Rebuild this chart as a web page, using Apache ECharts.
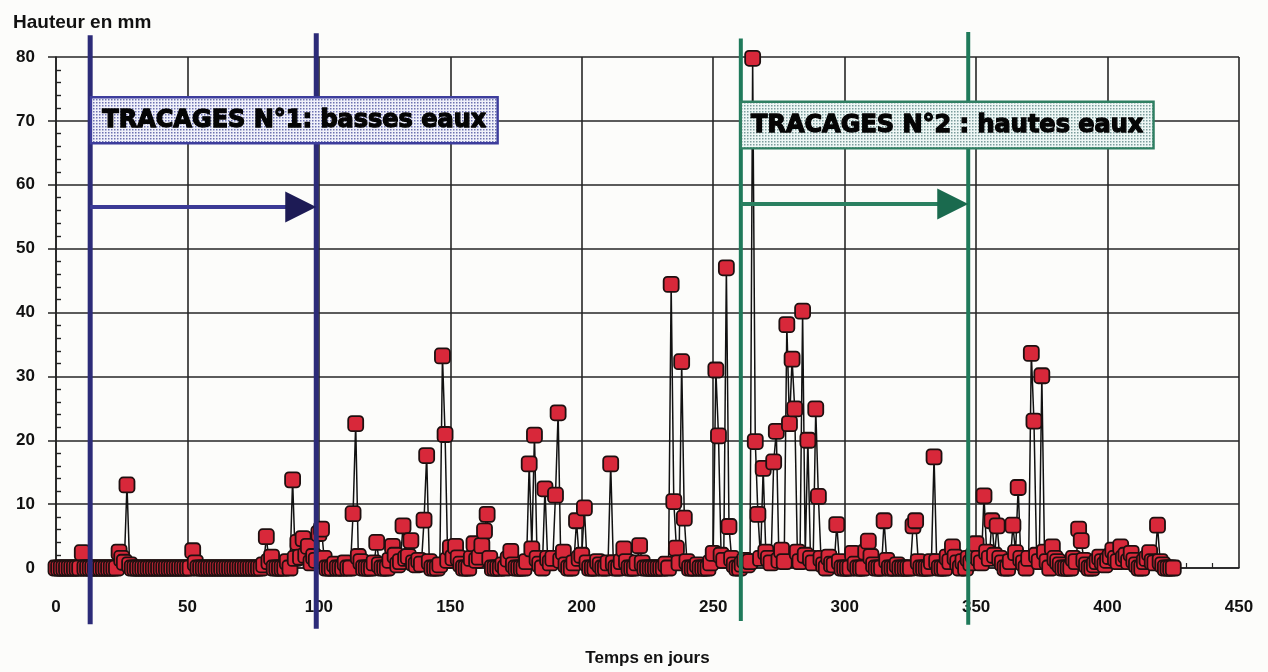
<!DOCTYPE html>
<html>
<head>
<meta charset="utf-8">
<script src="https://cdn.jsdelivr.net/npm/echarts@6/dist/echarts.min.js"></script>
<style>
  html, body { margin: 0; padding: 0; background: #fcfcfa; }
  #chart { width: 1268px; height: 672px; }
</style>
</head>
<body>
<div id="chart"></div>
<script>
// Daily rainfall (mm), day 0 to day 425
const rainfall = [
  0, 0, 0, 0, 0, 0, 0, 0, 0, 0,            2.4, 0, 0, 0, 0, 0, 0, 0, 0, 0,
  0, 0, 0, 0, 2.5, 1.5, 0.9, 13, 0.5, 0,   0, 0, 0, 0, 0, 0, 0, 0, 0, 0,
  0, 0, 0, 0, 0, 0, 0, 0, 0, 0,            0, 0, 2.7, 0.8, 0, 0, 0, 0, 0, 0,
  0, 0, 0, 0, 0, 0, 0, 0, 0, 0,            0, 0, 0, 0, 0, 0, 0, 0, 0, 0.5,
  4.9, 1, 1.7, 0, 0, 0, 0, 0, 1, 0,        13.8, 1.5, 4, 1.7, 4.6, 2, 3.4, 0.8, 1.8, 1.2,
  5.4, 6.1, 1.5, 0, 0, 0, 0.6, 0, 0, 0,    0.8, 0, 0, 8.5, 22.6, 1.8, 1, 0, 0, 0,
  0, 0.8, 4, 0.5, 0, 0, 0, 1.2, 3.4, 2,    0.5, 1, 6.6, 1.5, 1.8, 4.3, 0.8, 0.5, 1.2, 0.6,
  7.5, 17.6, 1, 0, 0, 0, 0.5, 33.2, 20.9, 1.2,  3.2, 1.6, 3.4, 1.6, 0.6, 0, 0, 0, 1.5, 3.8,
  1.2, 1.7, 3.5, 5.8, 8.4, 1.5, 0, 0, 0, 0,     0.5, 0, 1.4, 2.6, 0.5, 0, 0, 0, 0, 1,
  16.3, 3, 20.8, 1.5, 0.6, 0, 12.4, 1.5, 0.8, 1.5,  11.4, 24.3, 1.2, 2.5, 0.5, 0, 0, 0.8, 7.4, 1.5,
  2, 9.4, 0.8, 0, 0, 0, 1, 0.5, 0, 0,      0.8, 16.3, 0.8, 0, 0, 1, 3, 1, 0, 0,
  0, 0.8, 3.5, 0.8, 0, 0, 0, 0, 0, 0,      0, 0, 0.6, 0, 44.4, 10.4, 3.1, 0.8, 32.3, 7.8,
  1, 0, 0, 0, 0.5, 0, 0, 0, 0, 0.8,        2.3, 31, 20.7, 2, 1.2, 47, 6.5, 1.5, 0.5, 0,
  0, 0.6, 1.2, 0.5, 1, 79.8, 19.8, 8.4, 1.5, 15.6,  2.5, 1.5, 0.8, 16.6, 21.4, 1.2, 2.8, 1, 38.1, 22.6,
  32.7, 24.9, 2.5, 1, 40.2, 2, 20, 1.5, 0.8, 24.9,  11.2, 1.5, 0.5, 0, 1.7, 0.6, 0.5, 6.8, 1, 0,
  0, 0, 0, 2.3, 0.6, 0, 0, 0, 2.5, 4.2,    1.8, 0.5, 0, 0, 0, 7.4, 1.2, 0, 0, 0,
  0.5, 0, 0, 0, 0, 0, 6.6, 7.4, 1, 0,      0, 0, 0, 1, 17.4, 1, 0, 0, 0, 1.7,
  1, 3.3, 1.7, 0.8, 0, 1, 0, 1.5, 0.8, 2,  3.8, 1.5, 0.8, 11.3, 2.5, 1.5, 7.4, 2, 6.6, 1.5,
  0.8, 0, 0, 1, 6.7, 2.4, 12.6, 1.5, 0.8, 0,    1.5, 33.6, 23, 2, 1, 30.1, 2.5, 1, 0, 3.3,
  1.5, 1, 0.5, 0, 0, 0, 0, 1.5, 1, 6.1,    4.3, 1.2, 0.5, 0, 0, 0.5, 1, 1.7, 1, 0.5,
  1.2, 1.8, 2.8, 1.5, 1, 3.3, 1.5, 2, 1, 2.3,   1.2, 0.5, 0, 0, 1, 1.5, 2.4, 1, 0.8, 6.7,
  1, 0.5, 0, 0, 0, 0
];

// Tracer test campaigns: label, first day, last day
const campaignLabels = ['TRACAGES N°1: basses eaux', 'TRACAGES N°2 : hautes eaux'];
const campaignStart = [13, 260.5];
const campaignEnd = [99, 347];

// Axis settings
const xMax = 450, xStep = 50;
const yMax = 80, yStep = 10;

// Drawing layout for each campaign, in axis units
const campaignLayout = [
  { color: '#2c2b78', arrow: '#3b3a95', head: '#1d1b55', border: '#3d3d9c',
    dotBg: '#f0f1fa', dot: '#6d72b0', lineW: 5,
    top: [83.4, 83.7], bottom: [-8.8, -9.5], arrowY: 56.5,
    box: [13.3, 168, 66.5, 73.7] },
  { color: '#1f7a5a', arrow: '#2a8060', head: '#1a6a4e', border: '#2f7f62',
    dotBg: '#eef7f5', dot: '#7b9c9c', lineW: 4,
    top: [82.9, 83.9], bottom: [-8.3, -8.9], arrowY: 57,
    box: [260.5, 417.5, 65.7, 73.0] }
];

function halftone(bg, dot) {
  const c = document.createElement('canvas');
  c.width = 3; c.height = 3;
  const g = c.getContext('2d');
  g.fillStyle = bg; g.fillRect(0, 0, 3, 3);
  g.fillStyle = dot; g.fillRect(0, 0, 1.5, 1.5);
  return c;
}
const patterns = campaignLayout.map(l => halftone(l.dotBg, l.dot));

function renderCampaign(params, api) {
  const i = params.dataIndex;
  const L = campaignLayout[i];
  const s = api.value(0), e = api.value(1);
  const pS0 = api.coord([s, L.top[0]]), pS1 = api.coord([s, L.bottom[0]]);
  const pE0 = api.coord([e, L.top[1]]), pE1 = api.coord([e, L.bottom[1]]);
  const ay = api.coord([s, L.arrowY])[1];
  const b0 = api.coord([L.box[0], L.box[3]]);
  const b1 = api.coord([L.box[1], L.box[2]]);
  const tip = pE0[0];
  const headLen = 31, headHalf = 15.5;
  return {
    type: 'group',
    children: [
      { type: 'line', shape: { x1: pS0[0], y1: pS0[1], x2: pS1[0], y2: pS1[1] },
        style: { stroke: L.color, lineWidth: L.lineW } },
      { type: 'line', shape: { x1: pE0[0], y1: pE0[1], x2: pE1[0], y2: pE1[1] },
        style: { stroke: L.color, lineWidth: L.lineW } },
      { type: 'line', shape: { x1: pS0[0], y1: ay, x2: tip - headLen + 2, y2: ay },
        style: { stroke: L.arrow, lineWidth: 4 } },
      { type: 'polygon',
        shape: { points: [[tip - headLen, ay - headHalf], [tip, ay], [tip - headLen, ay + headHalf]] },
        style: { fill: L.head } },
      { type: 'rect',
        shape: { x: b0[0], y: b0[1], width: b1[0] - b0[0], height: b1[1] - b0[1] },
        style: { fill: { image: patterns[i], repeat: 'repeat' }, stroke: L.border, lineWidth: 2.4 } },
      { type: 'text',
        style: { text: campaignLabels[i], x: (b0[0] + b1[0]) / 2, y: (b0[1] + b1[1]) / 2 + 1,
                 align: 'center', verticalAlign: 'middle',
                 font: 'bold 24px "DejaVu Sans"', fill: '#050505',
                 stroke: '#050505', lineWidth: 1.3 } }
    ]
  };
}

const chart = echarts.init(document.getElementById('chart'), null, { renderer: 'canvas' });
const axisFont = { fontFamily: 'Liberation Sans', fontWeight: 'bold', fontSize: 17, color: '#111' };

chart.setOption({
  animation: false,
  backgroundColor: '#fcfcfa',
  title: {
    text: 'Hauteur en mm', left: 8, top: 8,
    textStyle: { fontFamily: 'Liberation Sans', fontWeight: 'bold', fontSize: 19, color: '#111' }
  },
  grid: { left: 56, right: 29, top: 57, bottom: 94, containLabel: false },
  xAxis: {
    type: 'value', min: 0, max: xMax, interval: xStep,
    name: 'Temps en jours', nameLocation: 'middle', nameGap: 82,
    nameTextStyle: { fontFamily: 'Liberation Sans', fontWeight: 'bold', fontSize: 17, color: '#111' },
    axisLine: { show: true, lineStyle: { color: '#222', width: 1.5 } },
    axisTick: { show: false, inside: true },
    minorTick: { show: true, splitNumber: 5, length: 5, lineStyle: { color: '#222', width: 1.2 } },
    axisLabel: Object.assign({ margin: 31 }, axisFont),
    splitLine: { show: true, lineStyle: { color: '#262626', width: 1.6 } }
  },
  yAxis: [
    {
      type: 'value', min: 0, max: yMax, interval: yStep,
      axisLine: { show: true, lineStyle: { color: '#222', width: 1.6 } },
      axisTick: { show: true, length: 8, lineStyle: { color: '#222', width: 1.5 } },
      axisLabel: Object.assign({ margin: 21 }, axisFont),
      splitLine: { show: true, lineStyle: { color: '#262626', width: 1.6 } }
    },
    {
      type: 'value', min: 0, max: yMax, interval: yStep, position: 'left', offset: 0,
      axisLine: { show: false },
      axisTick: { show: false, inside: true },
      minorTick: { show: true, splitNumber: 5, length: 5, lineStyle: { color: '#222', width: 1.4 } },
      axisLabel: { show: false },
      splitLine: { show: false }
    }
  ],
  series: [
    {
      type: 'line', yAxisIndex: 0, z: 3,
      data: rainfall.map((v, d) => [d, v]),
      symbol: 'roundRect', symbolSize: 15, showAllSymbol: true,
      lineStyle: { color: '#111', width: 1.5 },
      itemStyle: { color: '#d8283a', borderColor: '#1e1010', borderWidth: 1.8 },
      emphasis: { disabled: true }
    },
    {
      type: 'custom', yAxisIndex: 0, z: 6, clip: false,
      renderItem: renderCampaign,
      data: campaignStart.map((s, i) => [s, campaignEnd[i]])
    }
  ]
});
</script>
</body>
</html>
